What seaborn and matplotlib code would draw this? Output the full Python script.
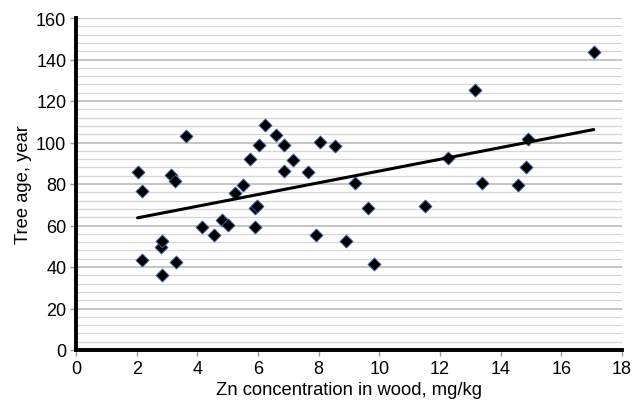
import matplotlib
matplotlib.use("Agg")
import matplotlib.pyplot as plt
import seaborn as sns
import numpy as np
import pandas as pd
from matplotlib.ticker import MultipleLocator

zn = [2.03, 2.16, 2.17, 2.82, 2.79, 2.85, 3.14, 3.25, 3.31, 3.62,
      4.15, 4.56, 4.81, 5.01, 5.25, 5.49, 5.74, 5.90, 5.97, 5.90,
      6.04, 6.23, 6.59, 6.85, 6.85, 7.14, 7.64, 7.92, 8.06, 8.54,
      8.91, 9.19, 9.62, 9.84, 11.49, 12.26, 13.14, 13.40, 14.57, 14.83,
      14.90, 17.07]
age = [85.6, 76.5, 43.5, 36.3, 49.5, 52.7, 84.5, 81.3, 42.6, 103.3,
       59.4, 55.4, 62.5, 60.2, 75.7, 79.7, 92.2, 68.4, 69.5, 59.4,
       98.9, 108.4, 103.5, 98.9, 86.4, 91.4, 85.6, 55.4, 100.2, 98.2,
       52.4, 80.5, 68.3, 41.6, 69.2, 92.4, 125.3, 80.5, 79.7, 88.3,
       101.7, 143.5]

df = pd.DataFrame({"zn": zn, "age": age})

sns.set_theme(style="white")
plt.rcParams['font.family'] = ['Liberation Sans', 'DejaVu Sans']

fig = plt.figure(figsize=(6.39, 4.06), dpi=100)
ax = fig.add_axes([76/639, 1-351/406, (622-76)/639, (351-19)/406])

ax.set_xlim(0, 18)
ax.set_ylim(0, 160)
ax.yaxis.set_major_locator(MultipleLocator(20))
ax.yaxis.set_minor_locator(MultipleLocator(4))
ax.xaxis.set_major_locator(MultipleLocator(2))
ax.grid(which='minor', axis='y', color='#d6d6d6', linewidth=0.9)
ax.grid(which='major', axis='y', color='#b5b5b5', linewidth=1.1)
ax.grid(which='major', axis='x', visible=False)
ax.set_axisbelow(True)

sns.regplot(data=df, x="zn", y="age", ax=ax, ci=None, marker='D',
            scatter_kws=dict(s=44, color='black', alpha=1, edgecolors='#3d64b0', linewidths=0.6, zorder=3),
            line_kws=dict(color='black', linewidth=2.2, zorder=4))

for s in ['top', 'right']:
    ax.spines[s].set_visible(False)
for s in ['left', 'bottom']:
    ax.spines[s].set_color('black')
    ax.spines[s].set_linewidth(2.8)

ax.tick_params(axis='both', which='major', direction='out', length=4, width=1.0,
               color='#999999', labelcolor='black', labelsize=13, left=True, bottom=True, pad=3)
ax.tick_params(axis='y', which='minor', left=False)
ax.set_xlabel("Zn concentration in wood, mg/kg", fontsize=13.2, color='black', labelpad=3)
ax.set_ylabel("Tree age, year", fontsize=13.2, color='black', labelpad=3)

fig.savefig("out.png", dpi=100, facecolor='white')
